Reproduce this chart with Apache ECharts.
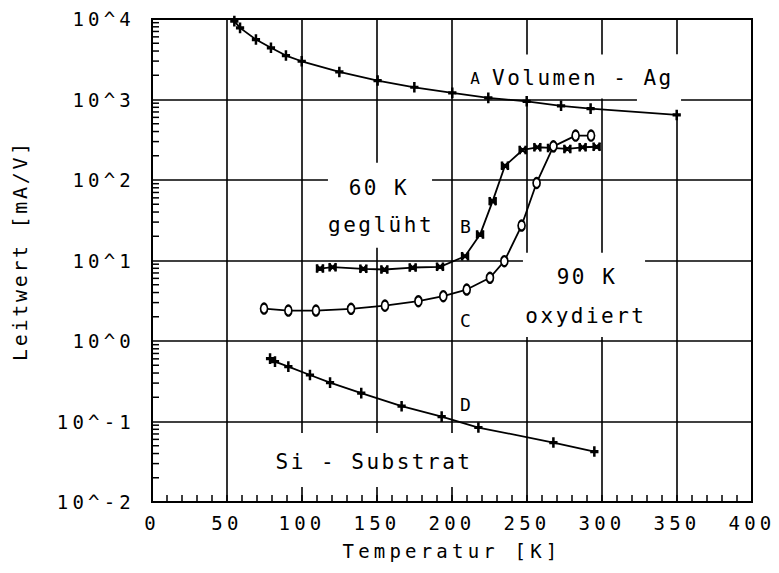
<!DOCTYPE html>
<html>
<head>
<meta charset="utf-8">
<script src="https://cdn.jsdelivr.net/npm/echarts@6.0.0/dist/echarts.min.js"></script>
<style>
  html, body { margin: 0; padding: 0; background: #fff; }
  #chart { width: 779px; height: 573px; }
  /* plotter-style wide character spacing, keyed on font size */
  #chart text[style*="19px"] { letter-spacing: 4.2px; }
  #chart text[style*="20px"] { letter-spacing: 2.7px; }
  #chart text[style*="18px"] { letter-spacing: 3px; }
  #chart text[style*="21px"] { letter-spacing: 2.5px; }
</style>
</head>
<body>
<div id="chart"></div>
<script>
// Temperature axis ticks and conductance decade labels
const xTicks = [0, 50, 100, 150, 200, 250, 300, 350, 400];
const yTickLabels = ['10^-2', '10^-1', '10^0', '10^1', '10^2', '10^3', '10^4'];

// A: Volumen - Ag
const tempA = [54.9, 58.7, 69.3, 79.3, 89.3, 99.8, 124.9, 150.4, 174.9, 200.2, 224.2, 249.8, 272.7, 292.4, 349.8];
const condA = [9400, 7760, 5560, 4390, 3515, 2985, 2200, 1718, 1419, 1208, 1047, 950, 835, 771, 643];

// B: 60 K geglüht
const tempB = [112, 120.4, 140.9, 154.9, 173.8, 192, 208.7, 218.7, 227.1, 235.3, 247.1, 256.9, 266, 276.9, 287.1, 296.4];
const condB = [7.95, 8.26, 7.89, 7.73, 8.18, 8.35, 11.3, 21, 54.6, 150, 236, 255, 250, 243, 255, 259];

// C: 90 K oxydiert
const tempC = [74.7, 90.9, 109.3, 132.7, 155.3, 177.6, 194.2, 209.8, 225.3, 234.9, 246.4, 256.4, 267.6, 282.4, 292.7];
const condC = [2.53, 2.39, 2.39, 2.51, 2.75, 3.12, 3.6, 4.36, 6.1, 9.8, 27.2, 91.8, 262, 356, 356];

// D: Si - Substrat
const tempD = [78.7, 82, 90.9, 105.3, 118.7, 139.5, 166.4, 193.1, 217.6, 267.6, 294.9];
const condD = [0.604, 0.554, 0.48, 0.378, 0.304, 0.225, 0.155, 0.115, 0.0842, 0.0548, 0.0423];

const FONT = 'DejaVu Sans Mono';
const INK = '#000';

const plusSymbol = 'path://M4.1,0H5.9V4.1H10V5.9H5.9V10H4.1V5.9H0V4.1H4.1Z';
const bowtieSymbol = 'path://M0,0H1.6V10H0Z M8.4,0H10V10H8.4Z M0,0.8L0.8,0L10,9.2L9.2,10Z M9.2,0L10,0.8L0.8,10L0,9.2Z';

function pairs(xs, ys) { return xs.map((x, i) => [x, ys[i]]); }

// log-spaced minor ticks (2..9 within each decade) along the left axis
const yMinor = [];
for (let e = -2; e < 4; e++) {
  for (let k = 2; k <= 9; k++) yMinor.push([0, k * Math.pow(10, e)]);
}

function curve(name, data, symbol, size) {
  return {
    name, type: 'line', data, symbol, symbolSize: size,
    showSymbol: true, z: 3,
    lineStyle: { color: INK, width: 1.8 },
    itemStyle: { color: INK, borderColor: INK, borderWidth: 1.4 },
    emphasis: { disabled: true }
  };
}

const chart = echarts.init(document.getElementById('chart'), null, { renderer: 'svg' });

chart.setOption({
  animation: false,
  backgroundColor: '#fff',
  grid: {
    left: 152, right: 27, top: 19, bottom: 71,
    show: true, borderColor: INK, borderWidth: 2, backgroundColor: '#fff'
  },
  xAxis: {
    type: 'value', min: xTicks[0], max: xTicks[xTicks.length - 1], interval: 50,
    axisLine: { lineStyle: { color: INK, width: 2 } },
    axisTick: { show: true, inside: true, length: 7, lineStyle: { color: INK, width: 1.5 } },
    minorTick: { show: true, splitNumber: 5, length: 7, lineStyle: { color: INK, width: 1.5 } },
    splitLine: { show: true, lineStyle: { color: INK, width: 1.6 } },
    axisLabel: {
      color: INK, fontFamily: FONT, fontSize: 19, margin: 11,
      formatter: v => String(xTicks[xTicks.indexOf(v)])
    },
    name: 'Temperatur [K]', nameLocation: 'middle', nameGap: 39,
    nameTextStyle: { color: INK, fontFamily: FONT, fontSize: 19 }
  },
  yAxis: {
    type: 'log', logBase: 10, min: 0.01, max: 10000, splitNumber: 6,
    axisLine: { lineStyle: { color: INK, width: 2 } },
    axisTick: { show: false },
    splitLine: { show: true, lineStyle: { color: INK, width: 1.6 } },
    axisLabel: {
      color: INK, fontFamily: FONT, fontSize: 19, margin: 17,
      formatter: v => yTickLabels[Math.round(Math.log10(v)) + 2]
    },
    name: 'Leitwert [mA/V]', nameLocation: 'middle', nameGap: 122,
    nameTextStyle: { color: INK, fontFamily: FONT, fontSize: 20, padding: [0, 0, 0, 20] }
  },
  series: [
    {
      type: 'custom', data: yMinor, silent: true, clip: false, z: 2,
      renderItem: (params, api) => {
        const p = api.coord([0, api.value(1)]);
        return {
          type: 'line',
          shape: { x1: p[0], y1: p[1], x2: p[0] + 7, y2: p[1] },
          style: { stroke: INK, lineWidth: 1.5 }
        };
      }
    },
    curve('A', pairs(tempA, condA), plusSymbol, [7, 9]),
    curve('B', pairs(tempB, condB), bowtieSymbol, [7, 7]),
    Object.assign(curve('C', pairs(tempC, condC), 'emptyCircle', [7, 10]),
      { itemStyle: { color: INK, borderColor: INK, borderWidth: 1.5 } }),
    curve('D', pairs(tempD, condD), plusSymbol, [7, 9])
  ]
});

// Annotations, placed in data space: [temperature, log10(conductance)]
const clearBoxes = [
  [206.7, 352.7, 3.558, 3.011],
  [323.3, 352.7, 3.558, 2.849],
  [117.3, 186.7, 2.215, 1.158],
  [247.3, 328.7, 1.096, 0.051],
  [77.3, 213.3, -1.144, -1.815]
];
const notes = [
  { text: 'A', at: [215.3, 3.26], size: 16, align: 'center' },
  { text: 'Volumen - Ag', at: [226.7, 3.272], size: 21, align: 'left' },
  { text: '60 K', at: [151.3, 1.904], size: 21, align: 'center' },
  { text: 'geglüht', at: [152.7, 1.444], size: 21, align: 'center' },
  { text: 'B', at: [205.3, 1.419], size: 18, align: 'left' },
  { text: '90 K', at: [290, 0.797], size: 21, align: 'center' },
  { text: 'oxydiert', at: [289.3, 0.312], size: 21, align: 'center' },
  { text: 'C', at: [205.3, 0.25], size: 18, align: 'left' },
  { text: 'D', at: [205.3, -0.795], size: 18, align: 'left' },
  { text: 'Si - Substrat', at: [148, -1.504], size: 21, align: 'center' }
];

function toPx(t, e) {
  return chart.convertToPixel({ gridIndex: 0 }, [t, Math.pow(10, e)]);
}

const graphics = [];
clearBoxes.forEach(b => {
  const p1 = toPx(b[0], b[2]);
  const p2 = toPx(b[1], b[3]);
  graphics.push({
    type: 'rect', z: 1, silent: true,
    shape: { x: p1[0], y: p1[1], width: p2[0] - p1[0], height: p2[1] - p1[1] },
    style: { fill: '#fff' }
  });
});
notes.forEach(n => {
  const p = toPx(n.at[0], n.at[1]);
  graphics.push({
    type: 'text', z: 5, silent: true, x: p[0], y: p[1],
    style: {
      text: n.text, fill: INK, fontFamily: FONT, fontSize: n.size,
      textAlign: n.align, textVerticalAlign: 'middle'
    }
  });
});
chart.setOption({ graphic: graphics });
</script>
</body>
</html>
